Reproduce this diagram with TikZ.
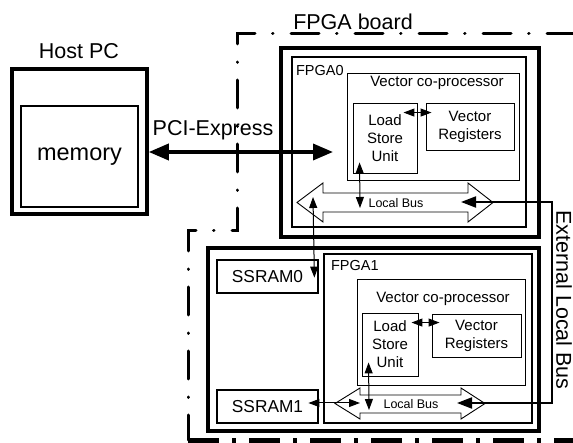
\documentclass[tikz,border=0pt]{standalone}
\usepackage{fontspec}
\setmainfont{Liberation Sans}
\usetikzlibrary{arrows.meta,calc}
\begin{document}
\begin{tikzpicture}[x=1pt,y=-1pt,
  box/.style={draw, inner sep=0pt, align=center},
  heavybox/.style={box, line width=3.5pt},
  medbox/.style={box, line width=2.8pt},
  thinbox/.style={box, line width=0.9pt},
  bigfont/.style={font=\fontsize{21.5}{24}\selectfont},
  memfont/.style={font=\fontsize{23.5}{26}\selectfont},
  midfont/.style={font=\fontsize{15}{18}\selectfont},
  lblfont/.style={font=\fontsize{14.5}{16}\selectfont},
  ramfont/.style={font=\fontsize{17.3}{19}\selectfont},
  busfont/.style={font=\fontsize{12.5}{14}\selectfont},
  board/.style={line width=3pt, line cap=round, dash pattern=on 28pt off 18pt on 0.5pt off 17.5pt},
  boardbottom/.style={line width=5pt, dash pattern=on 31pt off 13pt on 4pt off 13pt},
  pciarrow/.style={line width=3.5pt, {Triangle[length=20pt,width=16pt]}-{Triangle[length=20pt,width=16pt]}},
  extarrow/.style={line width=2pt, {Triangle[length=15pt,width=11pt]}-{Triangle[length=15pt,width=11pt]}},
  thinarrow/.style={line width=1pt, {Triangle[length=11pt,width=8pt]}-{Triangle[length=11pt,width=8pt]}},
  busline/.style={line width=0.9pt, line join=miter}
]
\useasboundingbox (0,0) rectangle (573,443);

% Host PC
\node[bigfont] (hosttitle) at (79,51) {Host PC};
\node[heavybox, minimum width=135pt, minimum height=145pt] (host) at (79.5,141.5) {};
\node[box, line width=2.5pt, minimum width=117pt, minimum height=101pt, memfont] (mem) at (79.5,156.5) {memory};

% FPGA board boundary
\draw[board] (575,34) -- (237,34) -- (237,231) -- (188,231) -- (188,440);
\draw[boardbottom] (188,440) -- (575,440);
\node[bigfont] (boardtitle) at (353,22) {FPGA board};

% FPGA0
\node[heavybox, minimum width=258pt, minimum height=189pt] (f0out) at (410,142.5) {};
\node[medbox, minimum width=234pt, minimum height=170pt] (f0) at (409,142) {};
\node[lblfont, anchor=west] (f0lbl) at ($(f0.north west)+(2,15)$) {FPGA0};
\node[thinbox, minimum width=172pt, minimum height=107pt] (vcp0) at (433,126.5) {};
\node[midfont] (vcp0lbl) at ($(vcp0.north)+(4,10)$) {Vector co-processor};
\node[thinbox, midfont, minimum width=64pt, minimum height=70pt] (lsu0) at (385,138) {Load\\Store\\Unit};
\node[thinbox, midfont, minimum width=88pt, minimum height=47pt] (vr0) at (470,126.5) {Vector\\Registers};
\draw[thinarrow] ($(lsu0.north east)+(-14,10)$) -- ($(vr0.north west)+(6,10)$);
\draw[busline] (297,202.5) -- (323,183) -- (323,193) -- (468,193) -- (468,183) -- (493,202.5)
  -- (468,222) -- (468,212) -- (323,212) -- (323,222) -- cycle;
\node[busfont] (bus0) at (396,203) {Local Bus};
\coordinate (bus0lsu) at (360,208);
\draw[thinarrow] ($(lsu0.south west)+(7,-11)$) -- (bus0lsu);

% PCI-Express
\coordinate (pciend) at (333,152);
\draw[pciarrow] ([yshift=-10.5pt]host.east) -- (pciend);
\node[bigfont] (pcilbl) at (213,130) {PCI-Express};

% FPGA1
\node[heavybox, minimum width=331pt, minimum height=183pt] (f1out) at (373.5,339.5) {};
\node[medbox, minimum width=208pt, minimum height=169pt] (f1) at (428,338.5) {};
\node[lblfont, anchor=west] (f1lbl) at ($(f1.north west)+(5,13)$) {FPGA1};
\node[medbox, ramfont, minimum width=101pt, minimum height=33pt] (ram0) at (267.5,276.5) {SSRAM0};
\node[medbox, ramfont, minimum width=101pt, minimum height=33pt] (ram1) at (267.5,406.5) {SSRAM1};
\node[thinbox, minimum width=168pt, minimum height=106pt] (vcp1) at (441,332) {};
\node[midfont] (vcp1lbl) at ($(vcp1.north)+(2,20)$) {Vector co-processor};
\node[thinbox, midfont, minimum width=56pt, minimum height=63pt] (lsu1) at (390,344.5) {Load\\Store\\Unit};
\node[thinbox, midfont, minimum width=89pt, minimum height=43pt] (vr1) at (476.5,335.5) {Vector\\Registers};
\draw[thinarrow] ($(lsu1.north east)+(-7,10)$) -- ($(vr1.north west)+(8,9)$);
\draw[busline] (335,403.5) -- (360,388) -- (360,395) -- (461,395) -- (461,388) -- (485,403.5)
  -- (461,419) -- (461,413) -- (360,413) -- (360,419) -- cycle;
\node[busfont] (bus1) at (411,404) {Local Bus};
\coordinate (bus1lsu) at (369,410);
\draw[thinarrow] ($(lsu1.south west)+(7,-14)$) -- (bus1lsu);
\coordinate (bus1left) at (360,403);
\draw[thinarrow] ($(ram1.east)+(-11,-3.5)$) -- (bus1left);

% SSRAM0 link to FPGA0 local bus
\coordinate (bus0left) at (313,197);
\draw[thinarrow] (bus0left) -- ($(ram0.north east)+(-5,19)$);

% External local bus
\coordinate (ext0) at (461,202);
\coordinate (ext1) at (457,403);
\draw[extarrow] (ext0) -- (552,202) -- (552,403) -- (ext1);
\node[bigfont, rotate=-90] (extlbl) at (564,300) {External Local Bus};
\end{tikzpicture}
\end{document}
